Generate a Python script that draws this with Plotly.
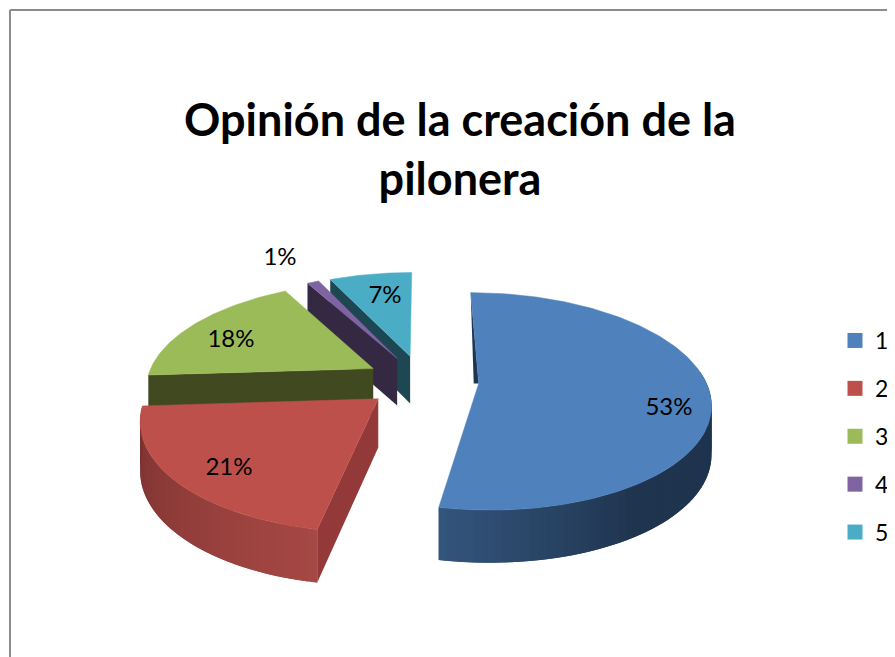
import math
import plotly.graph_objects as go

# ---- data ----
categories = ["1", "2", "3", "4", "5"]
percent = [53, 21, 18, 1, 7]
colors = ["#4F81BD", "#BE504C", "#9BBB59", "#8064A2", "#4BACC6"]
title_lines = ["Opinión de la creación de la", "pilonera"]

# ---- style / geometry of the tilted, exploded pie ----
PAGE_OFFSET = 8       # the page body adds this margin round the figure
FIG_W, FIG_H = 895 - PAGE_OFFSET, 657 - PAGE_OFFSET
CX, CY = 422, 381     # screen centre of the pie
RX, RY = 227, 105     # radii of the disc
K = 0.164             # perspective strength
PULL = 0.25           # explosion
DEPTH = 48            # extrusion height
cut_color = {"1": "#1E3550", "2": "#93393A", "3": "#414921", "4": "#342842", "5": "#1C4753"}
wall_ramps = {
    "1": [(0.0, (52, 86, 125)), (0.42, (32, 53, 80)), (1.0, (30, 50, 76))],
    "2": [(0.0, (120, 48, 48)), (1.0, (166, 72, 68))],
}
label_xy = {"1": (669, 409), "2": (229, 469), "3": (231, 341), "4": (280, 259), "5": (385, 297)}


def px(x):
    return (x - PAGE_OFFSET) / FIG_W


def py(y):
    return 1 - (y - PAGE_OFFSET) / FIG_H


def proj(u, v, h=0.0):
    s = 1 / (1 + K * v)
    return CX + RX * u * s, CY - RY * v * s + DEPTH * h * s ** 0.5


def ramp(stops, f):
    for (a, ca), (b, cb) in zip(stops, stops[1:]):
        if f <= b:
            t = (f - a) / (b - a)
            return "rgb(%d,%d,%d)" % tuple(ca[i] + (cb[i] - ca[i]) * t for i in range(3))
    return "rgb(%d,%d,%d)" % stops[-1][1]


fig = go.Figure()


def poly(pts, color, line=0.0):
    fig.add_trace(go.Scatter(
        x=[p[0] for p in pts] + [pts[0][0]], y=[p[1] for p in pts] + [pts[0][1]],
        mode="lines", fill="toself", fillcolor=color,
        line=dict(color=color, width=line), hoverinfo="skip", showlegend=False))


# slice angle spans from the values
spans = []
acc = 0.0
for v in percent:
    spans.append((acc * 3.6, (acc + v) * 3.6))
    acc += v


def slice_geometry(i):
    a0, a1 = [math.radians(d) for d in spans[i]]
    mid = (a0 + a1) / 2
    ou, ov = PULL * math.sin(mid), PULL * math.cos(mid)
    n = max(4, int((a1 - a0) * 60))
    rim = [(ou + math.sin(a0 + (a1 - a0) * j / n), ov + math.cos(a0 + (a1 - a0) * j / n)) for j in range(n + 1)]
    return (ou, ov), rim


def draw_slice(i):
    key = categories[i]
    (ou, ov), rim = slice_geometry(i)
    first = rim[0]
    if key in ("2", "3", "4", "5"):
        poly([proj(ou, ov), proj(*first), proj(*first, 1), proj(ou, ov, 1)], cut_color[key])
    if key == "1":
        ax, ay = proj(ou, ov)
        poly([proj(*first), (ax, ay), (ax - 5, ay)], cut_color[key])
    # curved outer wall, painted in overlapping shaded strips
    if key in wall_ramps:
        visible = [j for j in range(len(rim)) if rim[j][1] < 0.12 + ov]
        start, end = visible[0], visible[-1]
        step = 2
        for j in range(start, end, step):
            f = 1 - (j - start) / max(1, end - start)
            pts = rim[j:min(end, j + step + 2) + 1]
            poly([proj(*p) for p in pts] + [proj(*p, 1) for p in pts[::-1]], ramp(wall_ramps[key], f))
    # top face
    poly([proj(ou, ov)] + [proj(*p) for p in rim], colors[i], 0.5)


for i in [4, 3, 2, 0, 1]:
    draw_slice(i)

# data labels
fig.add_trace(go.Scatter(
    x=[label_xy[c][0] for c in categories], y=[label_xy[c][1] for c in categories],
    mode="text", text=[f"{v}%" for v in percent],
    textfont=dict(family="Lato", size=24, color="black"),
    hoverinfo="skip", showlegend=False))

# legend
for c, col in zip(categories, colors):
    fig.add_trace(go.Scatter(x=[None], y=[None], mode="markers", name=c, legendgroup=c,
                             marker=dict(symbol="square", size=15, color=col)))

# frame of the chart area
fig.add_shape(type="line", xref="paper", yref="paper", x0=px(10), x1=1, y0=py(10), y1=py(10),
              line=dict(color="#8C8C8C", width=2))
fig.add_shape(type="line", xref="paper", yref="paper", x0=px(10), x1=px(10), y0=0, y1=py(10),
              line=dict(color="#8C8C8C", width=2))

fig.update_layout(
    width=FIG_W, height=FIG_H, margin=dict(l=0, r=0, t=0, b=0),
    paper_bgcolor="white", plot_bgcolor="white",
    xaxis=dict(range=[PAGE_OFFSET, 895], visible=False, fixedrange=True),
    yaxis=dict(range=[657, PAGE_OFFSET], visible=False, fixedrange=True),
    title=dict(text="<br>".join(f"<b>{t}</b>" for t in title_lines),
               x=px(460), xanchor="center", y=py(136), yanchor="top",
               font=dict(family="Lato", size=45, color="black")),
    legend=dict(x=px(835), xanchor="left", y=py(319), yanchor="top",
                font=dict(family="Lato", size=23, color="black"),
                tracegroupgap=15, bgcolor="rgba(0,0,0,0)", itemclick=False, itemdoubleclick=False),
)
fig.write_html("out.html")
